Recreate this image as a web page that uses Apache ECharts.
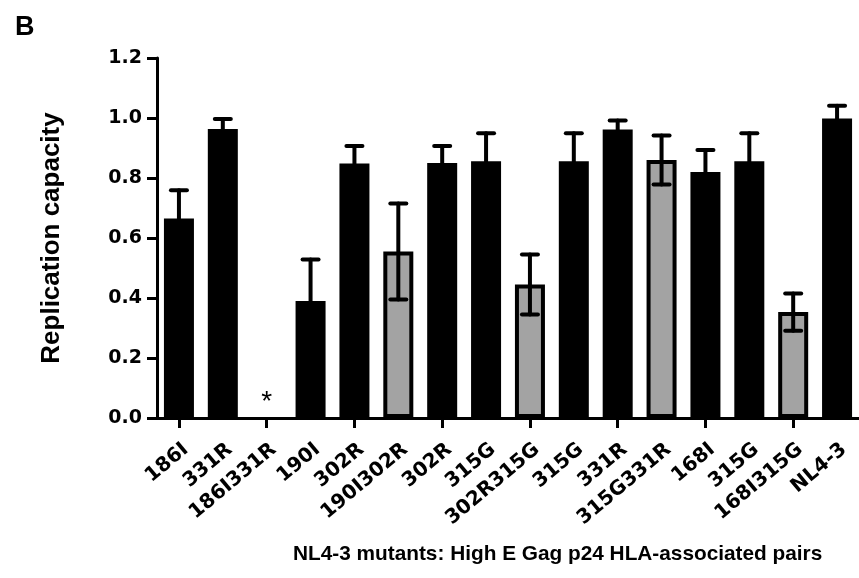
<!DOCTYPE html>
<html>
<head>
<meta charset="utf-8">
<script src="https://cdn.jsdelivr.net/npm/echarts@6/dist/echarts.min.js"></script>
<style>html,body{margin:0;padding:0;background:#fff}#c{width:859px;height:578px}</style>
</head>
<body>
<div id="c"></div>
<script>
const categories = ['186I','331R','186I331R','190I','302R','190I302R','302R','315G','302R315G','315G','331R','315G331R','168I','315G','168I315G','NL4-3'];
const values = [0.665,0.963,0,0.39,0.848,0.555,0.85,0.856,0.445,0.856,0.962,0.86,0.82,0.856,0.353,0.998];
const errors = [0.094,0.034,0,0.138,0.059,0.16,0.057,0.093,0.10,0.093,0.03,0.082,0.073,0.093,0.062,0.043];
const isPair = [false,false,true,false,false,true,false,false,true,false,false,true,false,false,true,false];
const yTickMin = 0, yTickMax = 1.2, yTickStep = 0.2;

const barData = values.map((v, i) => {
  const item = { value: v, itemStyle: { color: isPair[i] ? '#a3a3a3' : '#000' } };
  if (v === 0) {
    item.itemStyle.borderWidth = 0;
    item.label = { show: true, formatter: '*' };
  }
  return item;
});
const errData = values.map((v, i) => [i, v - errors[i], v + errors[i]]);
const labelData = categories.map((c, i) => [i, 0]);

const chart = echarts.init(document.getElementById('c'));
chart.setOption({
  animation: false,
  backgroundColor: '#fff',
  title: [
    { text: 'B', left: 10, top: 9, textStyle: { fontFamily: 'Liberation Sans', fontWeight: 'bold', fontSize: 27, color: '#000' } },
    { text: 'NL4-3 mutants: High E Gag p24 HLA-associated pairs', left: 293, top: 544, padding: 0, textStyle: { fontFamily: 'Liberation Sans', fontWeight: 'bold', fontSize: 20.8, color: '#000' } }
  ],
  grid: { left: 157, right: -2, top: 58, bottom: 160 },
  xAxis: {
    type: 'category',
    data: categories,
    axisLine: { show: true, lineStyle: { color: '#000', width: 3 } },
    axisTick: { show: true, alignWithLabel: true, length: 10, lineStyle: { color: '#000', width: 3 } },
    axisLabel: { show: false }
  },
  yAxis: {
    type: 'value',
    min: yTickMin, max: yTickMax, interval: yTickStep,
    name: 'Replication capacity',
    nameLocation: 'middle',
    nameGap: 92,
    nameTextStyle: { fontFamily: 'Liberation Sans', fontWeight: 'bold', fontSize: 26, color: '#000' },
    axisLine: { show: true, lineStyle: { color: '#000', width: 3 } },
    axisTick: { show: true, length: 10, lineStyle: { color: '#000', width: 3 } },
    splitLine: { show: false },
    axisLabel: { margin: 15, fontFamily: 'DejaVu Sans', fontWeight: 'bold', fontSize: 19, color: '#000', formatter: v => v.toFixed(1) }
  },
  series: [
    {
      type: 'bar',
      data: barData,
      barWidth: 30,
      itemStyle: { borderColor: '#000', borderWidth: 4 },
      label: { show: false, position: 'top', distance: 2, fontFamily: 'Liberation Sans', fontSize: 28, color: '#000' },
      z: 2
    },
    {
      type: 'custom',
      data: errData,
      z: 3,
      renderItem: function (params, api) {
        const i = api.value(0);
        if (values[i] === 0) return null;
        const lo = api.coord([i, api.value(1)]);
        const hi = api.coord([i, api.value(2)]);
        const hw = 8;
        const st = { stroke: '#000', lineWidth: 4, lineCap: 'round' };
        return {
          type: 'group',
          children: [
            { type: 'line', shape: { x1: hi[0], y1: lo[1], x2: hi[0], y2: hi[1] }, style: st },
            { type: 'line', shape: { x1: hi[0] - hw, y1: hi[1], x2: hi[0] + hw, y2: hi[1] }, style: st },
            { type: 'line', shape: { x1: lo[0] - hw, y1: lo[1], x2: lo[0] + hw, y2: lo[1] }, style: st }
          ]
        };
      }
    },
    {
      type: 'custom',
      data: labelData,
      clip: false,
      silent: true,
      z: 4,
      renderItem: function (params, api) {
        const i = api.value(0);
        const p = api.coord([i, 0]);
        return {
          type: 'text',
          x: p[0] + 7,
          y: p[1] + 29,
          rotation: 40 * Math.PI / 180,
          style: {
            text: categories[i],
            align: 'right',
            verticalAlign: 'middle',
            fill: '#000',
            font: 'bold 20px "DejaVu Sans"'
          }
        };
      }
    }
  ]
});
</script>
</body>
</html>
